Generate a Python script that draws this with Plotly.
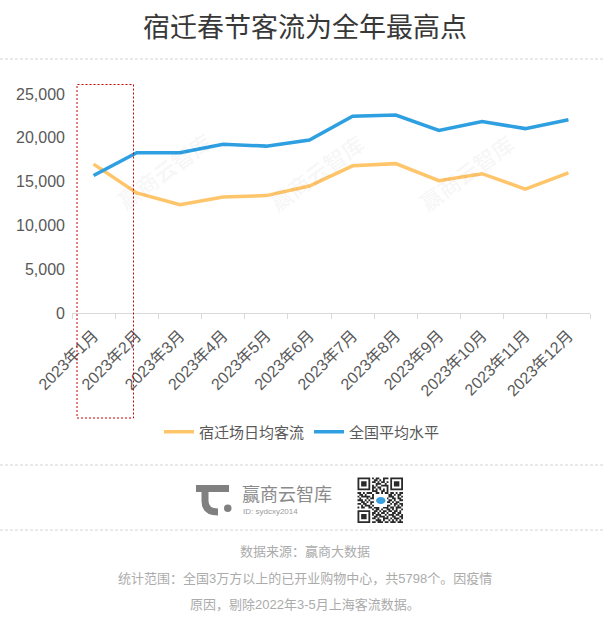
import plotly.graph_objects as go

# ---------------- data ----------------
months = ["2023年1月", "2023年2月", "2023年3月", "2023年4月", "2023年5月", "2023年6月",
          "2023年7月", "2023年8月", "2023年9月", "2023年10月", "2023年11月", "2023年12月"]
suqian = [17000, 13700, 12350, 13250, 13400, 14500, 16800, 17050, 15100, 15900, 14150, 16000]
national = [15700, 18300, 18300, 19250, 19050, 19750, 22450, 22600, 20850, 21850, 21050, 22050]
series_names = ["宿迁场日均客流", "全国平均水平"]
y_ticks = [0, 5000, 10000, 15000, 20000, 25000]

title_text = "宿迁春节客流为全年最高点"
brand_text = "赢商云智库"
brand_id = "ID: sydcxy2014"
footer_lines = ["数据来源：赢商大数据",
                "统计范围：全国3万方以上的已开业购物中心，共5798个。因疫情",
                "原因，剔除2022年3-5月上海客流数据。"]

# ---------------- layout geometry ----------------
W, H = 611, 618
L, R, T, B = 72, 21, 94, 305
PW, PH = W - L - R, H - T - B


def px(x):
    return (x - L) / PW


def py(y):
    return (H - B - y) / PH


def P(x, y):
    return f"{px(x)},{py(y)}"


FONT = "Liberation Sans, Arial, Noto Sans CJK SC, sans-serif"
ORANGE = "#FFC56B"
BLUE = "#2E9FE0"

fig = go.Figure()
fig.add_trace(go.Scatter(x=months, y=suqian, mode="lines", name=series_names[0],
                         line=dict(color=ORANGE, width=3.5)))
fig.add_trace(go.Scatter(x=months, y=national, mode="lines", name=series_names[1],
                         line=dict(color=BLUE, width=3.5)))

shapes = []
annotations = []

# title
annotations.append(dict(text=title_text, x=px(305), y=py(25), xref="paper", yref="paper",
                        showarrow=False, xanchor="center", yanchor="middle",
                        font=dict(family="Noto Sans CJK SC, sans-serif", size=27, color="#383838")))

# dashed separators
for yy in (59, 465, 530):
    shapes.append(dict(type="line", xref="paper", yref="paper", x0=px(0), x1=px(605),
                       y0=py(yy), y1=py(yy), line=dict(color="#d4d4d4", width=1, dash="3px,2px")))

# red dashed highlight box
shapes.append(dict(type="rect", xref="paper", yref="paper", x0=px(77), x1=px(133.5),
                   y0=py(418), y1=py(84.5), line=dict(color="#C00000", width=1, dash="2px,2px")))

# watermarks
for (wx, wy) in [(164, 170), (316, 172), (466, 172)]:
    annotations.append(dict(text="<b>赢商云智库</b>", x=px(wx), y=py(wy), xref="paper", yref="paper",
                            showarrow=False, textangle=-36, xanchor="center", yanchor="middle",
                            font=dict(family="Noto Sans CJK SC, sans-serif", size=22,
                                      color="rgba(0,0,0,0.045)")))

# logo icon
GRAY = "#808080"
shapes.append(dict(type="line", xref="paper", yref="paper", x0=px(196), x1=px(229),
                   y0=py(488.5), y1=py(488.5), line=dict(color=GRAY, width=7)))
shapes.append(dict(type="path", xref="paper", yref="paper",
                   path=f"M {P(205, 489)} L {P(205, 501)} Q {P(205, 512)} {P(218, 512)}",
                   line=dict(color=GRAY, width=7)))
shapes.append(dict(type="circle", xref="paper", yref="paper", x0=px(224), x1=px(231.5),
                   y0=py(504.5), y1=py(512), fillcolor=GRAY, line=dict(width=0)))

annotations.append(dict(text=brand_text, x=px(240), y=py(493), xref="paper", yref="paper",
                        showarrow=False, xanchor="left", yanchor="middle",
                        font=dict(family="Noto Sans CJK SC, sans-serif", size=18, color="#8a8a8a")))
annotations.append(dict(text=brand_id, x=px(241), y=py(511), xref="paper", yref="paper",
                        showarrow=False, xanchor="left", yanchor="middle",
                        font=dict(family=FONT, size=8, color="#9a9a9a")))

# QR-like decoration
qr = ["1111111010110011101111111",
      "1000001001101010001000001",
      "1011101011010110101011101",
      "1011101000111001001011101",
      "1011101010100111101011101",
      "1000001011011000101000001",
      "1111111010101010101111111",
      "0000000011100110100000000",
      "1101011100110101101101011",
      "0110100011011100011010110",
      "1011111010100111011100101",
      "0100010111011001100110110",
      "1110101001110110011010011",
      "0011010110101101110101100",
      "1101100100111011001011011",
      "0010111011001110110010101",
      "1011001101110011101101110",
      "0000000010110100110101001",
      "1111111001101011011011010",
      "1000001011010110100110110",
      "1011101010111001011101101",
      "1011101001101110100110011",
      "1011101011010011101011101",
      "1000001000111010010101010",
      "1111111011011101101110111"]
qx0, qy0, qsz = 357.5, 477.5, 45.5
m = qsz / 25
parts = []
for i, row in enumerate(qr):
    for j, c in enumerate(row[:25]):
        if c == "1":
            x0, y0 = qx0 + j * m, qy0 + i * m
            parts.append(f"M {P(x0, y0)} L {P(x0 + m, y0)} L {P(x0 + m, y0 + m)} L {P(x0, y0 + m)} Z")
shapes.append(dict(type="path", xref="paper", yref="paper", path=" ".join(parts),
                   fillcolor="#2a2a2a", line=dict(width=0)))
shapes.append(dict(type="rect", xref="paper", yref="paper", x0=px(374), x1=px(387),
                   y0=py(507), y1=py(494), fillcolor="white", line=dict(width=0)))
shapes.append(dict(type="circle", xref="paper", yref="paper", x0=px(376), x1=px(385.5),
                   y0=py(504), y1=py(497), fillcolor="#3AA0E0", line=dict(width=0)))

# footer
for txt, yy in zip(footer_lines, (551, 578, 604)):
    annotations.append(dict(text=txt, x=px(305), y=py(yy), xref="paper", yref="paper",
                            showarrow=False, xanchor="center", yanchor="middle",
                            font=dict(family=FONT, size=13, color="#ababab")))

fig.update_layout(
    width=W, height=H,
    margin=dict(l=L, r=R, t=T, b=B, autoexpand=False),
    paper_bgcolor="white", plot_bgcolor="white",
    font=dict(family=FONT, color="#595959"),
    showlegend=True,
    legend=dict(orientation="h", x=px(302), y=py(432), xanchor="center", yanchor="middle",
                font=dict(size=15, color="#595959"), itemwidth=30, tracegroupgap=0,
                bgcolor="rgba(0,0,0,0)"),
    shapes=shapes, annotations=annotations,
    xaxis=dict(type="category", range=[-0.5, len(months) - 0.5], showgrid=False, showline=True,
               linecolor="#d9d9d9", linewidth=1,
               ticks="outside", tickson="boundaries", ticklen=5, tickcolor="#d9d9d9",
               tickangle=-45, tickfont=dict(size=16, color="#595959"), automargin=False,
               ticklabelstandoff=6, zeroline=False),
    yaxis=dict(range=[0, 25000], tickvals=y_ticks, tickformat=",d", showgrid=False,
               showline=False, zeroline=False, ticks="", tickfont=dict(size=16, color="#595959"),
               ticklabelstandoff=6, automargin=False),
)

fig.write_html("out.html", config={"displayModeBar": False},
               post_script="document.body.style.margin='0';document.body.style.padding='0';"
                           "document.documentElement.style.overflow='hidden';")
